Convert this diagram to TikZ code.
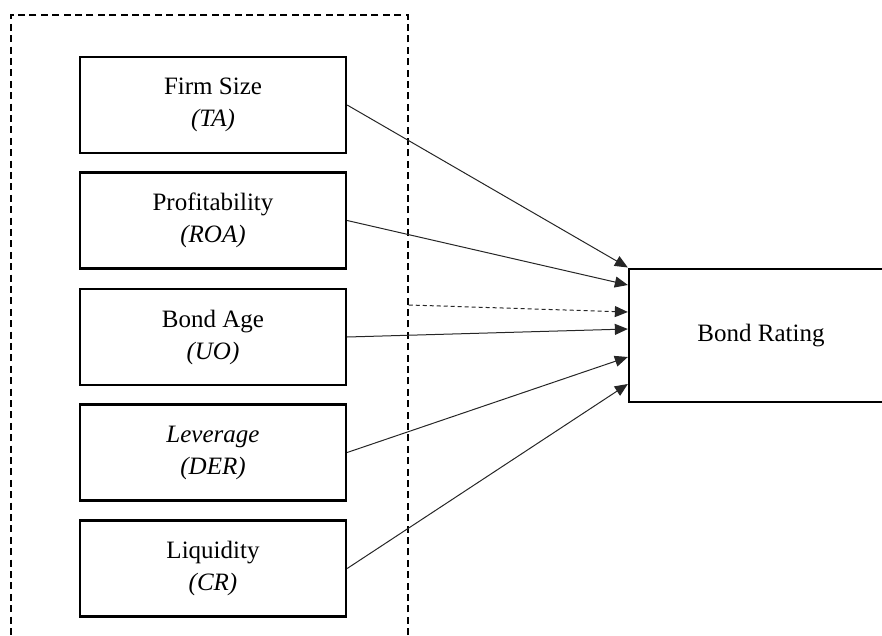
\documentclass[tikz,border=0pt]{standalone}
\usepackage{fontspec}
\setmainfont{Liberation Serif}
\usetikzlibrary{positioning,calc,arrows.meta}
\tikzstyle{varbox} = [rectangle, draw=black, line width=1.15pt, minimum width=133pt, minimum height=48pt, align=center, font=\fontsize{12.5}{16}\selectfont]
\tikzstyle{arrow} = [black!85, line width=0.5pt, -{Triangle[length=6.5pt,width=5.5pt]}]

\begin{document}
\begin{tikzpicture}[x=0.5pt,y=-0.5pt]
\useasboundingbox (0,0) rectangle (882,636);
\clip (0,0) rectangle (882,636);
% group of independent variables
\node (group) [draw, line width=0.75pt, dash pattern=on 3.5pt off 2.2pt, minimum width=198.5pt, minimum height=322.5pt] at (209.5,337.5) {};
\node (size) [varbox] at (213,105) {Firm Size\\\textit{(TA)}};
\node (prof) [varbox] at (213,220.5) {Profitability\\\textit{(ROA)}};
\node (age) [varbox] at (213,337) {Bond Age\\\textit{(UO)}};
\node (lev) [varbox] at (213,452.5) {\textit{Leverage}\\\textit{(DER)}};
\node (liq) [varbox] at (213,568.5) {Liquidity\\\textit{(CR)}};
% dependent variable
\node (rating) [varbox, minimum width=132pt, minimum height=66.5pt] at (761,335.5) {Bond Rating};
\draw[arrow] (size.east) -- ($(rating.west)+(0,-68)$);
\draw[arrow] (prof.east) -- ($(rating.west)+(0,-50.5)$);
\draw[arrow, dash pattern=on 2pt off 1.5pt] ($(group.east)+(0,-32.5)$) -- ($(rating.west)+(0,-23.5)$);
\draw[arrow] (age.east) -- ($(rating.west)+(0,-6.5)$);
\draw[arrow] (lev.east) -- ($(rating.west)+(0,21.5)$);
\draw[arrow] (liq.east) -- ($(rating.west)+(0,48.5)$);
\end{tikzpicture}
\end{document}
